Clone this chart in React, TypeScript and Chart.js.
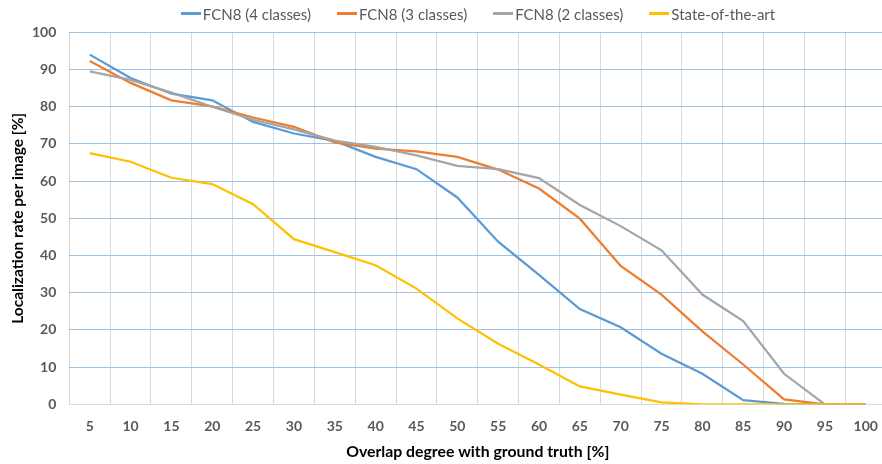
import React, { useEffect, useRef } from 'react';
import { Chart, registerables } from 'chart.js';

Chart.register(...registerables);

const categories = ['5', '10', '15', '20', '25', '30', '35', '40', '45', '50', '55', '60', '65', '70', '75', '80', '85', '90', '95', '100'];
const fcn4 = [94.0, 87.7, 83.5, 81.7, 75.9, 72.8, 70.8, 66.5, 63.2, 55.6, 43.7, 34.8, 25.6, 20.7, 13.6, 8.2, 1.1, 0.1, 0, 0];
const fcn3 = [92.3, 86.4, 81.7, 80.1, 77.1, 74.6, 70.4, 68.7, 68.0, 66.5, 63.1, 58.0, 49.9, 37.2, 29.5, 19.6, 10.7, 1.3, 0, 0];
const fcn2 = [89.5, 87.2, 83.8, 80.0, 76.5, 73.9, 70.9, 69.2, 66.9, 64.1, 63.2, 60.8, 53.6, 47.9, 41.4, 29.5, 22.4, 8.2, 0, 0];
const sota = [67.5, 65.2, 60.9, 59.2, 53.8, 44.4, 40.9, 37.4, 31.1, 23.1, 16.3, 10.7, 4.8, 2.6, 0.5, 0, 0, 0, 0, 0];
const seriesNames = ['FCN8 (4 classes)', 'FCN8 (3 classes)', 'FCN8 (2 classes)', 'State-of-the-art'];
const seriesColors = ['#5B9BD5', '#ED7D31', '#A5A5A5', '#FFC000'];
const seriesValues = [fcn4, fcn3, fcn2, sota];
const xTitle = 'Overlap degree with ground truth [%]';
const yTitle = 'Localization rate per image [%]';

const FONT = "Lato, 'Open Sans', sans-serif";

export default function App() {
  const ref = useRef<HTMLCanvasElement>(null);

  useEffect(() => {
    document.body.style.margin = '0';
    document.body.style.overflow = 'hidden';
    const canvas = ref.current;
    if (!canvas) return;
    const chart = new Chart(canvas, {
      type: 'line',
      data: {
        labels: categories,
        datasets: seriesValues.map((vals, i) => ({
          label: seriesNames[i],
          data: vals,
          borderColor: seriesColors[i],
          backgroundColor: seriesColors[i],
          borderWidth: 2.25,
          pointRadius: 0,
          pointHoverRadius: 0,
          tension: 0,
          fill: false,
          order: 4 - i,
        })),
      },
      options: {
        responsive: false,
        animation: false,
        events: [],
        layout: { padding: { top: 32.3, right: 2.7, left: 0, bottom: 0 } },
        plugins: {
          legend: { display: false },
          tooltip: { enabled: false },
        },
        scales: {
          x: {
            type: 'category',
            offset: true,
            grid: { offset: true, color: '#D9D9D9', lineWidth: 1, drawTicks: false },
            border: { color: '#D9D9D9', width: 1 },
            ticks: {
              padding: 14,
              color: '#595959',
              font: { family: FONT, size: 14, weight: 'bold' },
              maxRotation: 0,
              autoSkip: false,
            },
            title: {
              display: true,
              text: xTitle,
              color: '#000000',
              font: { family: FONT, size: 15.8, weight: 'bold' },
              padding: { top: 4, bottom: 3 },
            },
            afterFit: (s: any) => {
              s.height = 59.7;
            },
          },
          y: {
            min: 0,
            max: 100,
            ticks: {
              stepSize: 10,
              padding: 13,
              color: '#595959',
              font: { family: FONT, size: 14, weight: 'bold' },
            },
            grid: {
              color: (ctx: any) => (ctx.tick && ctx.tick.value === 0 ? 'rgba(0,0,0,0)' : '#9DC3E6'),
              lineWidth: 1,
              drawTicks: false,
            },
            border: { display: false },
            title: {
              display: true,
              text: yTitle,
              color: '#000000',
              font: { family: FONT, size: 15.5, weight: 'bold' },
              padding: { top: 9, bottom: 4 },
            },
            afterFit: (s: any) => {
              s.width = 69.3;
            },
          },
        },
      },
    });
    return () => chart.destroy();
  }, []);

  return (
    <div style={{ position: 'fixed', left: 0, top: 0, width: 882, height: 464, overflow: 'hidden', background: '#ffffff' }}>
      <canvas ref={ref} width={892} height={464} style={{ position: 'absolute', left: 0, top: 0, width: 892, height: 464 }} />
      <div
        style={{
          position: 'absolute',
          left: 0,
          top: 0,
          width: 956,
          height: 27,
          display: 'flex',
          justifyContent: 'center',
          alignItems: 'center',
          fontFamily: FONT,
          fontSize: 15,
          color: '#595959',
          whiteSpace: 'nowrap',
        }}
      >
        {seriesNames.map((name, i) => (
          <div key={name} style={{ display: 'flex', alignItems: 'center', marginRight: i < seriesNames.length - 1 ? 26 : 0 }}>
            <span style={{ display: 'inline-block', width: 20, height: 2.25, background: seriesColors[i], marginRight: 2 }} />
            <span>{name}</span>
          </div>
        ))}
      </div>
    </div>
  );
}
